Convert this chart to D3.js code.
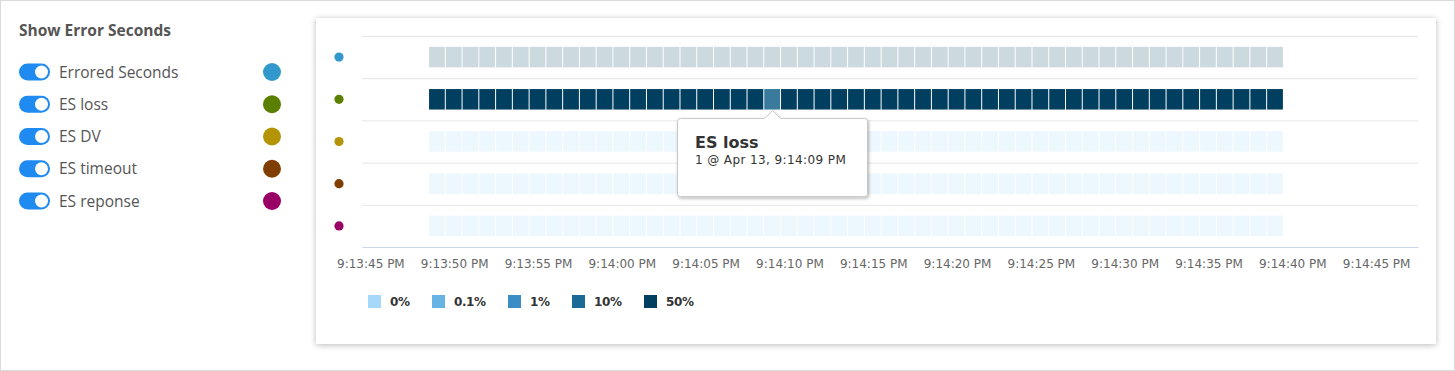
<!DOCTYPE html>
<html>
<head>
<meta charset="utf-8">
<script src="https://cdn.jsdelivr.net/npm/d3@7"></script>
<style>
    body { margin: 0; background: #fff; }
    #frame {
        position: absolute; left: 0; top: 0; width: 1455px; height: 371px;
        box-sizing: border-box; border: 1px solid #dadada;
    }
    #card {
        position: absolute; left: 316px; top: 18px; width: 1120px; height: 326px;
        background: #fff; box-shadow: 0 1px 6px rgba(0, 0, 0, 0.28);
    }
    #chart { position: absolute; left: 0; top: 0; }
</style>
</head>
<body>
<div id="frame"></div>
<div id="card"></div>
<svg id="chart" width="1455" height="371"></svg>
<script>
// series shown in the heatmap
var seriesNames = ['Errored Seconds', 'ES loss', 'ES DV', 'ES timeout', 'ES reponse'];
var seriesColors = ['#3399cc', '#5b8000', '#b39407', '#803e00', '#990066'];

// one value per second, 9:13:49 PM .. 9:14:39 PM
var erroredSeconds = [1,1,1,1,1,1,1,1,1,1,1,1,1,1,1,1,1,1,1,1,1,1,1,1,1,1,1,1,1,1,1,1,1,1,1,1,1,1,1,1,1,1,1,1,1,1,1,1,1,1,1];
var esLoss         = [1,1,1,1,1,1,1,1,1,1,1,1,1,1,1,1,1,1,1,1,1,1,1,1,1,1,1,1,1,1,1,1,1,1,1,1,1,1,1,1,1,1,1,1,1,1,1,1,1,1,1];
var esDV           = [0,0,0,0,0,0,0,0,0,0,0,0,0,0,0,0,0,0,0,0,0,0,0,0,0,0,0,0,0,0,0,0,0,0,0,0,0,0,0,0,0,0,0,0,0,0,0,0,0,0,0];
var esTimeout      = [0,0,0,0,0,0,0,0,0,0,0,0,0,0,0,0,0,0,0,0,0,0,0,0,0,0,0,0,0,0,0,0,0,0,0,0,0,0,0,0,0,0,0,0,0,0,0,0,0,0,0];
var esReponse      = [0,0,0,0,0,0,0,0,0,0,0,0,0,0,0,0,0,0,0,0,0,0,0,0,0,0,0,0,0,0,0,0,0,0,0,0,0,0,0,0,0,0,0,0,0,0,0,0,0,0,0];
var seriesValues = [erroredSeconds, esLoss, esDV, esTimeout, esReponse];

var firstSecond = new Date(2021, 3, 13, 21, 13, 49);
var lastSecond = new Date(2021, 3, 13, 21, 14, 39);

// color steps
var stepLabels = ['0%', '0.1%', '1%', '10%', '50%'];
var stepBreaks = [0.001, 0.01, 0.1, 0.5];
var stepColors = ['#a6d8fa', '#66b3e4', '#3a8ec5', '#1a6996', '#003f5f'];

// x ticks every 5 seconds
var tickStart = new Date(2021, 3, 13, 21, 13, 45);
var tickEnd = new Date(2021, 3, 13, 21, 14, 45);

// hovered point
var hoverSeries = 1;
var hoverTime = new Date(2021, 3, 13, 21, 14, 9);

var svg = d3.select('#chart');
var font = '"Open Sans", sans-serif';
var tickFont = '"DejaVu Sans", Verdana, sans-serif';

// ---- left panel ----
svg.append('text')
    .attr('x', 19).attr('y', 36)
    .style('font', '700 15.5px ' + font)
    .attr('fill', '#555')
    .text('Show Error Seconds');

var rowY = d3.scalePoint().domain(seriesNames).range([72, 201]);

var toggles = svg.append('g').selectAll('g')
    .data(seriesNames)
    .enter().append('g')
    .attr('transform', function (d) { return 'translate(0,' + rowY(d) + ')'; });

toggles.append('rect')
    .attr('x', 19).attr('y', -8.5).attr('width', 31).attr('height', 17).attr('rx', 8.5)
    .attr('fill', '#1f8bf1');
toggles.append('circle')
    .attr('cx', 41.5).attr('cy', 0).attr('r', 6.5)
    .attr('fill', '#fff');
toggles.append('text')
    .attr('x', 59).attr('y', 5.5)
    .style('font', '400 15.5px ' + font)
    .attr('fill', '#555')
    .text(function (d) { return d; });
toggles.append('circle')
    .attr('cx', 272).attr('cy', 0).attr('r', 9)
    .attr('fill', function (d, i) { return seriesColors[i]; });

// ---- heatmap ----
var x = d3.scaleTime()
    .domain([d3.timeMillisecond.offset(tickStart, -500), d3.timeMillisecond.offset(tickEnd, 2500)])
    .range([362, 1418]);

var y = d3.scaleBand().domain(seriesNames).range([36, 247]);

var color = d3.scaleThreshold().domain(stepBreaks).range(stepColors);

var plot = svg.append('g');

// grid lines
plot.selectAll('.grid')
    .data(seriesNames)
    .enter().append('line')
    .attr('x1', 362).attr('x2', 1418)
    .attr('y1', function (d) { return y(d) + 0.5; })
    .attr('y2', function (d) { return y(d) + 0.5; })
    .attr('stroke', '#e6e6e6');

// cells
var seconds = d3.timeSecond.range(firstSecond, d3.timeSecond.offset(lastSecond, 1));
var cells = [];
seriesValues.forEach(function (vals, si) {
    vals.forEach(function (v, ti) {
        cells.push({ s: si, t: seconds[ti], v: v });
    });
});

var cellH = 20.5;
plot.append('g').selectAll('rect')
    .data(cells)
    .enter().append('rect')
    .attr('x', function (d) { return x(d3.timeMillisecond.offset(d.t, -500)); })
    .attr('width', function (d) {
        return x(d3.timeMillisecond.offset(d.t, 500)) - x(d3.timeMillisecond.offset(d.t, -500)) - 1;
    })
    .attr('y', function (d) { return y(seriesNames[d.s]) + y.bandwidth() / 2 - cellH / 2; })
    .attr('height', cellH)
    .attr('fill', function (d) {
        if (d.s === hoverSeries && +d.t === +hoverTime) return '#3a7a9c';
        return color(d.v);
    })
    .attr('fill-opacity', function (d) { return d.s === hoverSeries ? 1 : 0.2; });

// y "labels": colored dots
plot.selectAll('.ydot')
    .data(seriesNames)
    .enter().append('circle')
    .attr('cx', 339)
    .attr('cy', function (d) { return y(d) + y.bandwidth() / 2; })
    .attr('r', 4.6)
    .attr('fill', function (d, i) { return seriesColors[i]; });

// x axis
var xAxis = d3.axisBottom(x)
    .tickValues(d3.timeSecond.every(5).range(tickStart, d3.timeSecond.offset(tickEnd, 1)))
    .tickFormat(d3.timeFormat('%-I:%M:%S %p'))
    .tickSize(0)
    .tickPadding(12);

var axisG = plot.append('g')
    .attr('transform', 'translate(0,247)')
    .call(xAxis);
axisG.select('.domain').attr('stroke', '#ccd6eb');
axisG.selectAll('text')
    .style('font', '12px ' + tickFont)
    .attr('fill', '#666');

// ---- color legend ----
var legendX = [368, 432, 508, 572, 644];
var legend = svg.append('g').selectAll('g')
    .data(stepLabels)
    .enter().append('g')
    .attr('transform', function (d, i) { return 'translate(' + legendX[i] + ',295)'; });
legend.append('rect')
    .attr('width', 13).attr('height', 13)
    .attr('fill', function (d, i) { return stepColors[i]; });
legend.append('text')
    .attr('x', 22).attr('y', 11)
    .style('font', '700 12px ' + tickFont)
    .attr('letter-spacing', '-0.4px')
    .attr('fill', '#333')
    .text(function (d) { return d; });

// ---- tooltip ----
var tipX = x(hoverTime);
var tipTop = y(seriesNames[hoverSeries]) + y.bandwidth() / 2 + cellH / 2 + 1;
var box = { x0: 677.5, x1: 867.5, y0: tipTop + 8, y1: tipTop + 86 };
var defs = svg.append('defs');
var shadow = defs.append('filter').attr('id', 'tipShadow')
    .attr('x', '-20%').attr('y', '-20%').attr('width', '140%').attr('height', '160%');
shadow.append('feDropShadow')
    .attr('dx', 1).attr('dy', 1.5).attr('stdDeviation', 1.5)
    .attr('flood-color', '#000').attr('flood-opacity', 0.3);

var r = 3;
var tipPath = d3.path();
tipPath.moveTo(box.x0 + r, box.y0);
tipPath.lineTo(tipX - 8, box.y0);
tipPath.lineTo(tipX, tipTop);
tipPath.lineTo(tipX + 8, box.y0);
tipPath.lineTo(box.x1 - r, box.y0);
tipPath.arcTo(box.x1, box.y0, box.x1, box.y0 + r, r);
tipPath.lineTo(box.x1, box.y1 - r);
tipPath.arcTo(box.x1, box.y1, box.x1 - r, box.y1, r);
tipPath.lineTo(box.x0 + r, box.y1);
tipPath.arcTo(box.x0, box.y1, box.x0, box.y1 - r, r);
tipPath.lineTo(box.x0, box.y0 + r);
tipPath.arcTo(box.x0, box.y0, box.x0 + r, box.y0, r);
tipPath.closePath();

var tip = svg.append('g');
tip.append('path')
    .attr('d', tipPath.toString())
    .attr('fill', '#fff')
    .attr('stroke', '#c8c8c8')
    .attr('filter', 'url(#tipShadow)');
tip.append('text')
    .attr('x', 695).attr('y', box.y0 + 29)
    .style('font', '700 16px ' + tickFont)
    .attr('fill', '#333')
    .text(seriesNames[hoverSeries]);
tip.append('text')
    .attr('x', 695).attr('y', box.y0 + 45)
    .style('font', '12px ' + tickFont)
    .attr('letter-spacing', '0.4px')
    .attr('fill', '#333')
    .text(seriesValues[hoverSeries][d3.timeSecond.count(firstSecond, hoverTime)] + ' @ ' +
        d3.timeFormat('%b %-d, %-I:%M:%S %p')(hoverTime));
</script>
</body>
</html>
